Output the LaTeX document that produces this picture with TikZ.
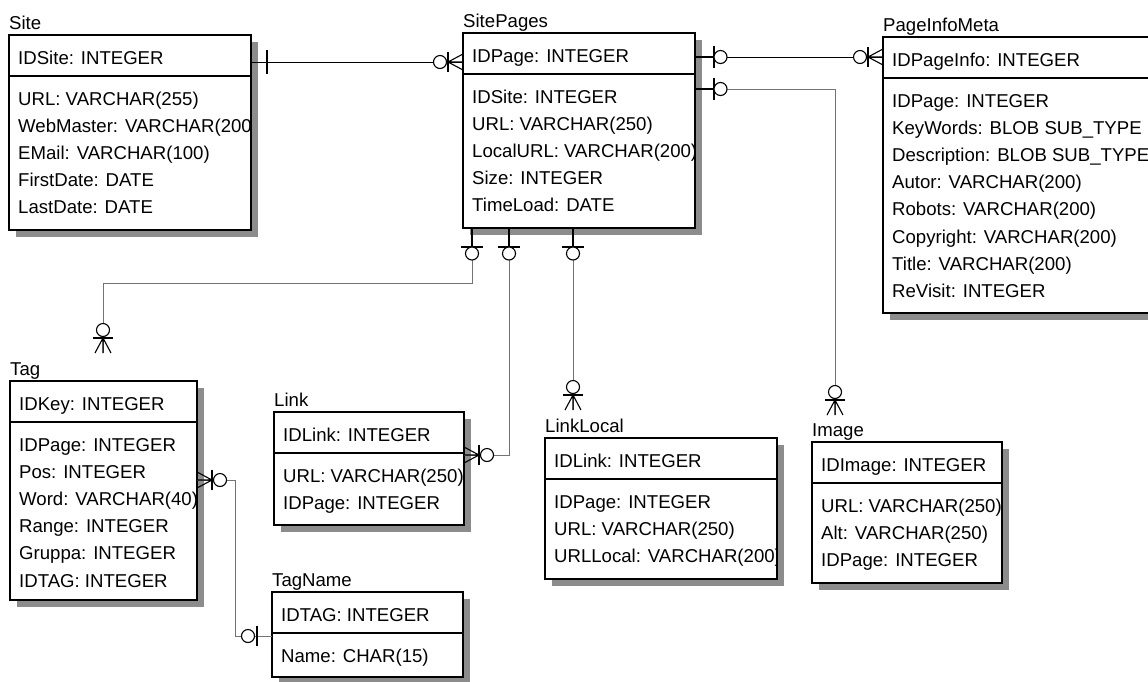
\documentclass[tikz,border=0pt]{standalone}
\usepackage{fontspec}
\setmainfont{Liberation Sans}
\definecolor{shadegray}{gray}{0.55}
\tikzset{
  tbl/.style={draw, fill=white, rectangle, line width=1.2pt, anchor=north west,
    inner sep=0pt, outer sep=0pt},
  boxshade/.style={fill=shadegray},
  sepline/.style={line width=1.2pt},
  ttl/.style={anchor=base west, inner sep=0pt},
  fld/.style={anchor=base west, inner sep=0pt},
  rel/.style={black!55, line width=0.8pt},
  relk/.style={black, line width=0.9pt},
  mk/.style={black, line width=1.1pt},
  % relationship ends, drawn pointing away from the table
  onebar/.pic={\draw[mk] (16,-12) -- (16,12);},
  zerobar/.pic={
    \draw[mk] (15,-10) -- (15,10);
    \draw[mk, fill=white] (24,0) circle (6.5pt);},
  zeroone/.pic={
    \draw[mk] (0,0) -- (19,0);
    \draw[mk] (19,-11) -- (19,11);
    \draw[mk, fill=white] (25.5,0) circle (6.5pt);},
  crowfoot/.pic={
    \draw[mk] (0,-8) -- (15,0) -- (0,8) (0,0) -- (15,0);
    \draw[mk] (15,-10) -- (15,10);
    \draw[mk, fill=white] (23,0) circle (6.5pt);}
}
% #1 name, #2 title, #3 left, #4 top, #5 width, #6 height, #7 key, #8 fields
\newcommand{\ertable}[8]{%
  \fill[boxshade] (#3+7,#4+7) rectangle ++(#5,#6);
  \node[tbl, minimum width=#5pt, minimum height=#6pt] (#1) at (#3,#4) {};
  \node[ttl] (#1-name) at (#3,#4-6) {#2};
  \draw[sepline] (#3,#4+41) -- ++(#5,0);
  \begin{scope}
    \clip (#1.north west) rectangle (#1.south east);
    \node[fld] (#1-key) at (#3+9,#4+29) {#7};
    \foreach \row [count=\i] in {#8}
      \node[fld] (#1-\i) at ({#3+9},{#4+70+27.2*(\i-1)}) {\row};
  \end{scope}
}

\begin{document}
\begin{tikzpicture}[x=1pt, y=-1pt, font=\fontsize{18.6}{22}\selectfont]
  \useasboundingbox (0,0) rectangle (1148,681);
  \clip (0,0) rectangle (1148,681);

  % tables
  \ertable{site}{Site}{9}{35}{242}{195}{IDSite: INTEGER}
    {URL: VARCHAR(255), WebMaster: VARCHAR(200), EMail: VARCHAR(100), FirstDate: DATE, LastDate: DATE}
  \ertable{spg}{SitePages}{463}{33}{232}{195}{IDPage: INTEGER}
    {IDSite: INTEGER, URL: VARCHAR(250), LocalURL: VARCHAR(200), Size: INTEGER, TimeLoad: DATE}
  \ertable{pim}{PageInfoMeta}{883}{37}{300}{276}{IDPageInfo: INTEGER}
    {IDPage: INTEGER, KeyWords: BLOB SUB\_TYPE, Description: BLOB SUB\_TYPE, Autor: VARCHAR(200),
     Robots: VARCHAR(200), Copyright: VARCHAR(200), Title: VARCHAR(200), ReVisit: INTEGER}
  \ertable{tag}{Tag}{10}{381}{187}{219}{IDKey: INTEGER}
    {IDPage: INTEGER, Pos: INTEGER, Word: VARCHAR(40), Range: INTEGER, Gruppa: INTEGER, IDTAG: INTEGER}
  \ertable{lnk}{Link}{274}{412}{190}{113}{IDLink: INTEGER}
    {URL: VARCHAR(250), IDPage: INTEGER}
  \ertable{tn}{TagName}{272}{592}{191}{85}{IDTAG: INTEGER}
    {Name: CHAR(15)}
  \ertable{ll}{LinkLocal}{545}{438}{232}{141}{IDLink: INTEGER}
    {IDPage: INTEGER, URL: VARCHAR(250), URLLocal: VARCHAR(200)}
  \ertable{img}{Image}{812}{442}{190}{141}{IDImage: INTEGER}
    {URL: VARCHAR(250), Alt: VARCHAR(250), IDPage: INTEGER}

  % Site -- SitePages
  \coordinate (st-r) at ([shift={(0,27)}]site.north east);
  \coordinate (sp-l) at ([shift={(0,29)}]spg.north west);
  \draw[relk] (st-r) -- (sp-l);
  \pic at (st-r) {onebar};
  \pic[rotate=180] at (sp-l) {crowfoot};

  % SitePages -- PageInfoMeta
  \coordinate (sp-r1) at ([shift={(0,24)}]spg.north east);
  \coordinate (pim-l) at ([shift={(0,20)}]pim.north west);
  \draw[relk] (sp-r1) -- (pim-l);
  \pic at (sp-r1) {zeroone};
  \pic[rotate=180] at (pim-l) {crowfoot};

  % SitePages -- Image
  \coordinate (sp-r2) at ([shift={(0,56)}]spg.north east);
  \coordinate (img-t) at ([shift={(23,-27)}]img.north west);
  \draw[rel] (sp-r2) -| (img-t);
  \pic at (sp-r2) {zeroone};
  \pic[rotate=90] at (img-t) {crowfoot};

  % SitePages -- Tag
  \coordinate (sp-b1) at ([shift={(9,0)}]spg.south west);
  \coordinate (tag-t) at ([shift={(93,-28)}]tag.north west);
  \draw[rel] (sp-b1) -- ++(0,55) -| (tag-t);
  \pic[rotate=-90] at (sp-b1) {zeroone};
  \pic[rotate=90] at (tag-t) {crowfoot};

  % SitePages -- Link
  \coordinate (sp-b2) at ([shift={(46,0)}]spg.south west);
  \coordinate (lnk-r) at ([shift={(0,43)}]lnk.north east);
  \draw[rel] (sp-b2) |- (lnk-r);
  \pic[rotate=-90] at (sp-b2) {zeroone};
  \pic at (lnk-r) {crowfoot};

  % SitePages -- LinkLocal
  \coordinate (sp-b3) at ([shift={(110,0)}]spg.south west);
  \coordinate (ll-t) at ([shift={(28,-28)}]ll.north west);
  \draw[rel] (sp-b3) -- (ll-t);
  \pic[rotate=-90] at (sp-b3) {zeroone};
  \pic[rotate=90] at (ll-t) {crowfoot};

  % Tag -- TagName
  \coordinate (tag-r) at ([shift={(0,99)}]tag.north east);
  \coordinate (tn-l) at ([shift={(0,44)}]tn.north west);
  \draw[rel] (tag-r) -- ++(38,0) |- (tn-l);
  \pic at (tag-r) {crowfoot};
  \pic[rotate=180] at (tn-l) {zerobar};
\end{tikzpicture}
\end{document}
